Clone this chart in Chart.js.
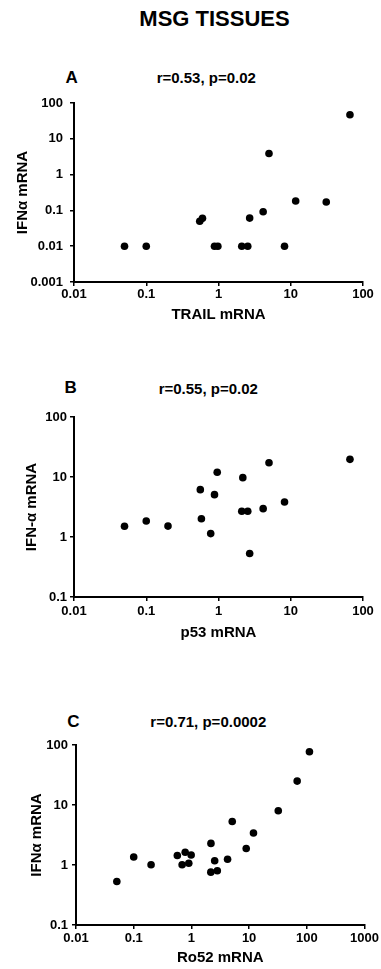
<!DOCTYPE html>
<html>
<head>
<meta charset="utf-8">
<script src="https://cdn.jsdelivr.net/npm/chart.js@4/dist/chart.umd.min.js"></script>
<style>
  html, body { margin: 0; padding: 0; background: #fff; }
  body { width: 381px; height: 969px; position: relative; overflow: hidden; font-family: "Liberation Sans", Arial, sans-serif; }
  .t { position: absolute; font-weight: bold; color: #000; white-space: nowrap; line-height: 1; transform: translateX(-50%); }
  canvas { position: absolute; left: 0; }
</style>
</head>
<body>
<div class="t" style="left:214.5px; top:8px; font-size:22px;">MSG TISSUES</div>

<div class="t" style="left:71.7px; top:69px; font-size:17px;">A</div>
<div class="t" style="left:206.3px; top:70px; font-size:15px;">r=0.53, p=0.02</div>
<div class="t" style="left:70.7px; top:378.5px; font-size:17px;">B</div>
<div class="t" style="left:208.3px; top:381px; font-size:15px;">r=0.55, p=0.02</div>
<div class="t" style="left:73.3px; top:712.5px; font-size:17px;">C</div>
<div class="t" style="left:208.3px; top:713.5px; font-size:15px;">r=0.71, p=0.0002</div>

<canvas id="cA" width="381" height="270" style="top:60px; width:381px; height:270px;"></canvas>
<canvas id="cB" width="381" height="275" style="top:370px; width:381px; height:275px;"></canvas>
<canvas id="cC" width="381" height="279" style="top:690px; width:381px; height:279px;"></canvas>

<script>
// ---- Data ----
// Panel A: TRAIL mRNA vs IFNα mRNA
const trailA = [0.05, 0.1, 0.55, 0.6, 0.88, 0.98, 2.1, 2.54, 2.7, 4.15, 5.0, 8.2, 11.7, 31, 66];
const ifnA   = [0.01, 0.01, 0.05, 0.06, 0.01, 0.01, 0.01, 0.01, 0.061, 0.092, 3.88, 0.01, 0.183, 0.171, 47];

// Panel B: p53 mRNA vs IFN-α mRNA
const p53B = [0.05, 0.1, 0.2, 0.56, 0.58, 0.78, 0.88, 0.96, 2.17, 2.1, 2.54, 2.7, 4.15, 5.0, 8.2, 66];
const ifnB = [1.51, 1.85, 1.52, 6.15, 2.02, 1.14, 5.08, 12.0, 9.75, 2.68, 2.68, 0.53, 2.97, 17.3, 3.83, 19.7];

// Panel C: Ro52 mRNA vs IFNα mRNA
const ro52C = [0.051, 0.1, 0.2, 0.57, 0.78, 0.69, 0.9, 0.99, 2.18, 2.17, 2.53, 2.81, 4.23, 5.1, 8.9, 11.9, 32, 68, 111];
const ifnC  = [0.53, 1.36, 1.01, 1.44, 1.63, 1.01, 1.07, 1.47, 2.29, 0.76, 1.18, 0.80, 1.25, 5.3, 1.88, 3.42, 8.0, 25, 77];

// Tick values and labels
const xTicksAB = [0.01, 0.1, 1, 10, 100];
const xLabelsAB = ['0.01', '0.1', '1', '10', '100'];
const xTicksC = [0.01, 0.1, 1, 10, 100, 1000];
const xLabelsC = ['0.01', '0.1', '1', '10', '100', '1000'];
const yTicksA = [0.001, 0.01, 0.1, 1, 10, 100];
const yLabelsA = ['0.001', '0.01', '0.1', '1', '10', '100'];
const yTicksBC = [0.1, 1, 10, 100];
const yLabelsBC = ['0.1', '1', '10', '100'];

// Axis titles
const xTitleA = 'TRAIL mRNA', yTitleA = 'IFNα mRNA';
const xTitleB = 'p53 mRNA',   yTitleB = 'IFN-α mRNA';
const xTitleC = 'Ro52 mRNA',  yTitleC = 'IFNα mRNA';

// ---- Rendering ----
const FONT = '"Liberation Sans", Arial, sans-serif';

function pts(xs, ys) { return xs.map((x, i) => ({ x: x, y: ys[i] })); }

function makeChart(id, cfg) {
  const axisCommon = (ticks, labels, title, titlePad, tickPad, size, isX) => ({
    type: 'logarithmic',
    min: ticks[0],
    max: ticks[ticks.length - 1],
    position: isX ? 'bottom' : 'left',
    afterBuildTicks: (s) => { s.ticks = ticks.map(v => ({ value: v })); },
    afterFit: (s) => { if (isX) s.height = size; else s.width = size; },
    grid: { display: true, drawOnChartArea: false, drawTicks: true, tickLength: 4, color: '#000', lineWidth: 1.5 },
    border: { display: true, color: '#000', width: 2 },
    ticks: {
      color: '#000',
      padding: tickPad,
      autoSkip: false,
      maxRotation: 0,
      font: { family: FONT, size: 13, weight: 'bold' },
      callback: (v) => { const i = ticks.indexOf(v); return i >= 0 ? labels[i] : ''; }
    },
    title: {
      display: true,
      text: title,
      color: '#000',
      font: { family: FONT, size: 15, weight: 'bold' },
      padding: titlePad
    }
  });

  return new Chart(document.getElementById(id), {
    type: 'scatter',
    data: {
      datasets: [{
        data: pts(cfg.xs, cfg.ys),
        backgroundColor: '#000',
        borderColor: '#000',
        borderWidth: 0,
        pointRadius: 3.8,
        pointHoverRadius: 3.8
      }]
    },
    options: {
      responsive: false,
      animation: false,
      devicePixelRatio: 1,
      layout: { padding: { top: cfg.padTop, right: cfg.padRight, bottom: 0, left: 0 } },
      plugins: { legend: { display: false }, tooltip: { enabled: false } },
      scales: {
        x: axisCommon(cfg.xTicks, cfg.xLabels, cfg.xTitle, { top: 0, bottom: cfg.xTitlePad }, cfg.xTickPad, cfg.xHeight, true),
        y: axisCommon(cfg.yTicks, cfg.yLabels, cfg.yTitle, { top: cfg.yTitlePad, bottom: 0 }, cfg.yTickPad, cfg.yWidth, false)
      }
    }
  });
}

makeChart('cA', {
  xs: trailA, ys: ifnA,
  xTicks: xTicksAB, xLabels: xLabelsAB, yTicks: yTicksA, yLabels: yLabelsA,
  xTitle: xTitleA, yTitle: yTitleA,
  padTop: 43, padRight: 18, xHeight: 48, yWidth: 74,
  xTitlePad: 6, yTitlePad: 14, xTickPad: 1, yTickPad: 7
});
makeChart('cB', {
  xs: p53B, ys: ifnB,
  xTicks: xTicksAB, xLabels: xLabelsAB, yTicks: yTicksBC, yLabels: yLabelsBC,
  xTitle: xTitleB, yTitle: yTitleB,
  padTop: 47, padRight: 18, xHeight: 48, yWidth: 74,
  xTitlePad: 3, yTitlePad: 23, xTickPad: 3, yTickPad: 3
});
makeChart('cC', {
  xs: ro52C, ys: ifnC,
  xTicks: xTicksC, xLabels: xLabelsC, yTicks: yTicksBC, yLabels: yLabelsBC,
  xTitle: xTitleC, yTitle: yTitleC,
  padTop: 55, padRight: 15, xHeight: 44, yWidth: 76,
  xTitlePad: 2, yTitlePad: 27.7, xTickPad: 2, yTickPad: 4
});
</script>
</body>
</html>
